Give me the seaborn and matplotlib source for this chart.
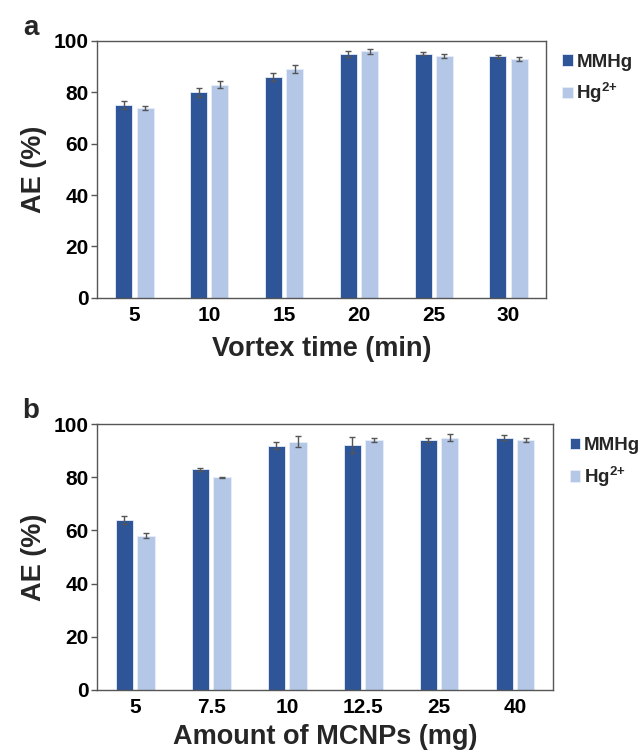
import numpy as np
import matplotlib
matplotlib.use('Agg')
import matplotlib.pyplot as plt
import pandas as pd
import seaborn as sns

# Panel a: vortex time
vortex_time = ['5', '10', '15', '20', '25', '30']
ae_mmhg_a = [75, 80, 86, 95, 95, 94]
ae_hg_a = [74, 83, 89, 96, 94, 93]
err_mmhg_a = [1.5, 1.8, 1.4, 1.1, 0.6, 0.7]
err_hg_a = [0.8, 1.3, 1.5, 1.0, 0.8, 0.8]

# Panel b: amount of MCNPs
mcnp_amount = ['5', '7.5', '10', '12.5', '25', '40']
ae_mmhg_b = [64, 83, 92, 92.3, 94, 95]
ae_hg_b = [58, 80, 93.5, 94, 95, 94]
err_mmhg_b = [1.5, 0.7, 1.5, 3.0, 0.7, 0.9]
err_hg_b = [1.0, 0.3, 2.0, 0.8, 1.2, 0.7]

species = ['MMHg', '$\\mathbf{Hg}^{\\mathbf{2}\\mathbf{+}}$']
colors = ['#2E5597', '#B4C7E7']

sns.set_style('white')
plt.rcParams['font.family'] = ['Liberation Sans', 'DejaVu Sans']
plt.rcParams['font.weight'] = 'bold'
plt.rcParams['mathtext.fontset'] = 'custom'
plt.rcParams['mathtext.rm'] = 'Liberation Sans:bold'
plt.rcParams['mathtext.bf'] = 'Liberation Sans:bold'
plt.rcParams['mathtext.it'] = 'Liberation Sans:bold'


def make_frame(cats, v1, v2):
    return pd.DataFrame({
        'cat': cats + cats,
        'AE': v1 + v2,
        'species': [species[0]] * len(cats) + [species[1]] * len(cats),
    })


def panel(ax, cats, v1, v2, e1, e2, xlabel, letter, xpad):
    df = make_frame(cats, v1, v2)
    sns.barplot(data=df, x='cat', y='AE', hue='species', order=cats,
                hue_order=species, palette=colors, saturation=1,
                width=0.57, gap=0.2, edgecolor='#E8EEF8', linewidth=0.6,
                errorbar=None, ax=ax)
    # error bars on top of each bar
    for cont, errs in zip(ax.containers, [e1, e2]):
        xs = [p.get_x() + p.get_width() / 2 for p in cont]
        ys = [p.get_height() for p in cont]
        ax.errorbar(xs, ys, yerr=errs, fmt='none', ecolor='#555555',
                    elinewidth=1.0, capsize=2.5, capthick=1.0)
    ax.set_ylim(0, 100)
    ax.set_xlim(-0.5, len(cats) - 0.5)
    ax.set_yticks([0, 20, 40, 60, 80, 100])
    ax.set_ylabel('AE (%)', fontsize=19.5, fontweight='bold', labelpad=5)
    ax.set_xlabel(xlabel, fontsize=19.5, fontweight='bold', labelpad=xpad)
    ax.tick_params(axis='y', labelsize=15, length=4, width=1, colors='#555555',
                   labelcolor='black', direction='out', left=True, pad=2)
    ax.tick_params(axis='x', labelsize=15, length=0, pad=6, labelcolor='black')
    for lab in ax.get_xticklabels() + ax.get_yticklabels():
        lab.set_fontweight('bold')
    for sp in ax.spines.values():
        sp.set_color('#555555')
        sp.set_linewidth(1.0)
    handles, labels = ax.get_legend_handles_labels()
    ax.legend(handles, labels, loc='upper left', bbox_to_anchor=(1.02, 0.98),
              frameon=False, fontsize=13.5, handlelength=0.55, handleheight=0.55,
              handletextpad=0.2, labelspacing=0.55, borderaxespad=0)
    ax.text(-0.165, 1.10, letter, transform=ax.transAxes, fontsize=20,
            fontweight='bold', va='top', ha='left')


fig = plt.figure(figsize=(6.43, 7.52), dpi=100)
ax_a = fig.add_axes([0.151, 0.604, 0.698, 0.3415])
ax_b = fig.add_axes([0.151, 0.0828, 0.709, 0.353])

panel(ax_a, vortex_time, ae_mmhg_a, ae_hg_a, err_mmhg_a, err_hg_a,
      'Vortex time (min)', 'a', 8)
panel(ax_b, mcnp_amount, ae_mmhg_b, ae_hg_b, err_mmhg_b, err_hg_b,
      'Amount of MCNPs (mg)', 'b', 5)

fig.savefig('out.png', dpi=100)
